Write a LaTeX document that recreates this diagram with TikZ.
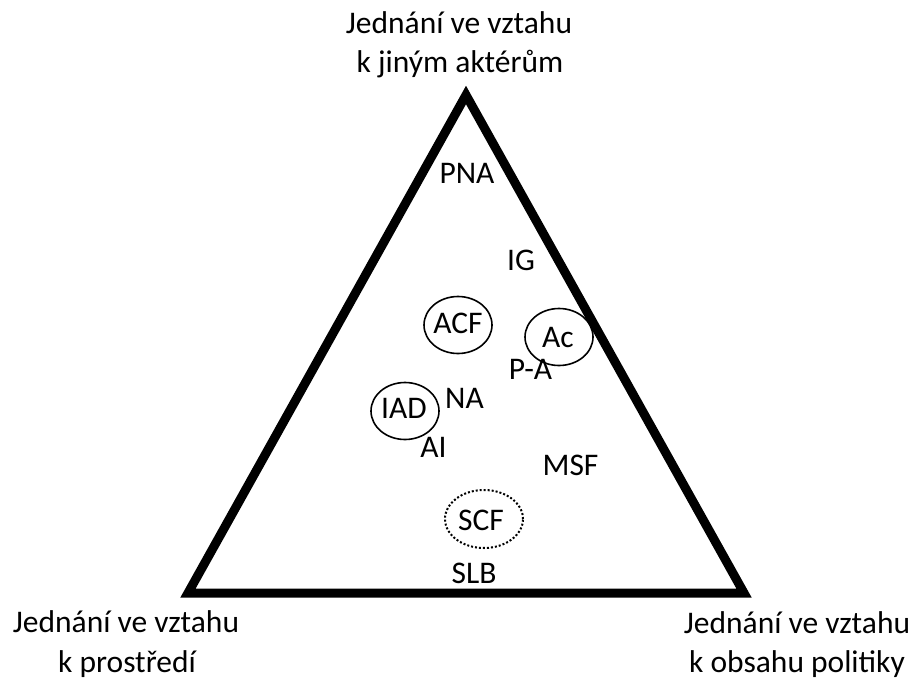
\documentclass[tikz,border=0pt]{standalone}
\usepackage{fontspec}
\setmainfont{Carlito}
\usetikzlibrary{shapes.geometric}
\begin{document}
\begin{tikzpicture}[x=1pt,y=-1pt,
  lbl/.style={font=\fontsize{31.5}{39}\selectfont, inner sep=0pt, anchor=base},
  framework/.style={lbl},
  ring/.style={draw, line width=1.6pt, ellipse, minimum width=68pt, minimum height=57pt, inner sep=0pt},
  dotring/.style={draw, line width=2pt, dotted, ellipse, minimum width=78pt, minimum height=58pt, inner sep=0pt},
]
\useasboundingbox (0,0) rectangle (917,680);
% triangle
\coordinate (top) at (466,95);
\coordinate (bl) at (188,593);
\coordinate (br) at (744,593);
\draw[line width=9pt] (top) -- (bl) -- (br) -- cycle;
% corner captions
\node[lbl] (ctopa) at (459,33) {Jednání ve vztahu};
\node[lbl] (ctopb) at (460,72) {k jiným aktérům};
\node[lbl] (clefta) at (126,632) {Jednání ve vztahu};
\node[lbl] (cleftb) at (127,672) {k prostředí};
\node[lbl] (crighta) at (797,633) {Jednání ve vztahu};
\node[lbl] (crightb) at (797,672) {k obsahu politiky};
% frameworks
\node[framework] (pna) at (467,183) {PNA};
\node[framework] (ig) at (521,270) {IG};
\node[ring] (acfr) at (458,325) {};
\node[framework] (acf) at (458,333) {ACF};
\node[ring] (acr) at (559,337) {};
\node[framework] (ac) at (558,347) {Ac};
\node[framework] (pa) at (530.5,379) {P-A};
\node[ring] (iadr) at (405,411) {};
\node[framework] (iad) at (404,418) {IAD};
\node[framework] (na) at (464.5,408) {NA};
\node[framework] (ai) at (433.5,457) {AI};
\node[framework] (msf) at (570.5,475) {MSF};
\node[dotring] (scfr) at (484,519) {};
\node[framework] (scf) at (481,530) {SCF};
\node[framework] (slb) at (474,583) {SLB};
\end{tikzpicture}
\end{document}
